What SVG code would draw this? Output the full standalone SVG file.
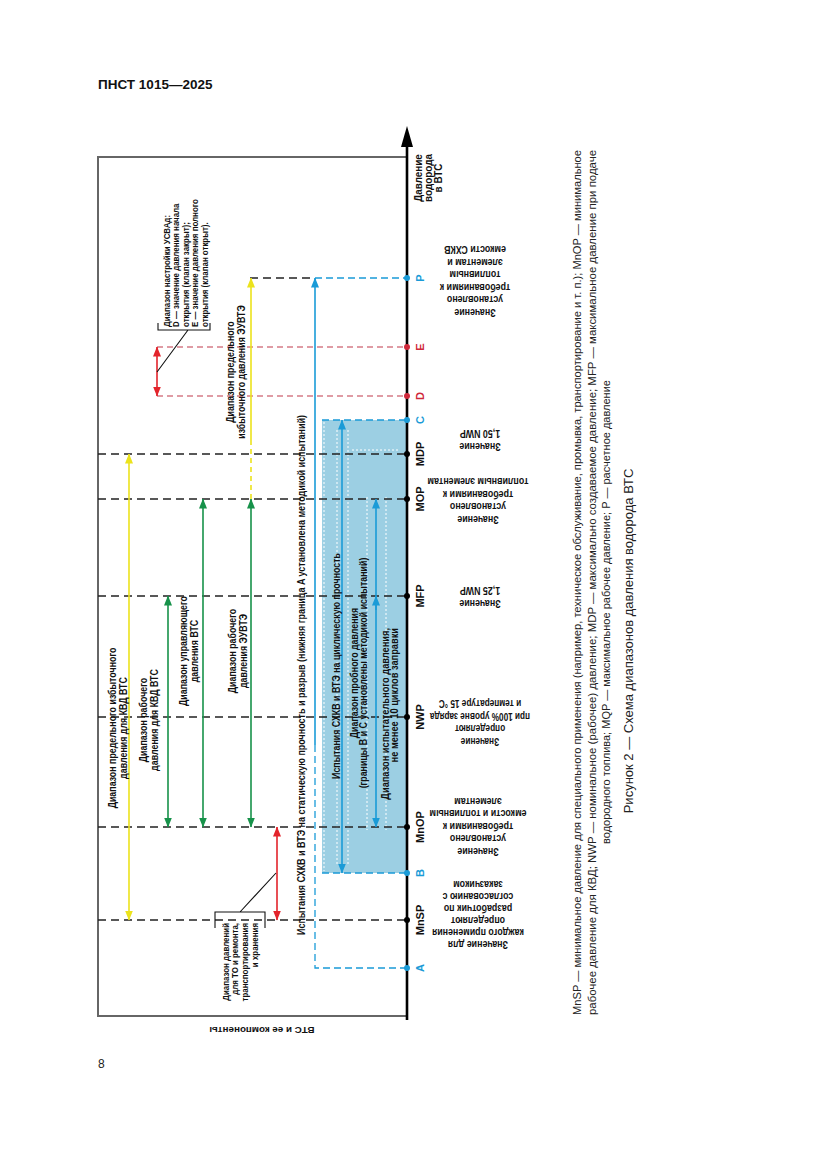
<svg xmlns="http://www.w3.org/2000/svg" width="827" height="1169" viewBox="0 0 827 1169">
<style>
.t{font-family:"Liberation Sans",Arial,sans-serif;font-weight:bold;font-size:10.3px;fill:#111}
.s{font-size:9.2px}
.ax{font-family:"Liberation Sans",Arial,sans-serif;font-weight:bold;font-size:11px}
.cap{font-family:"Liberation Sans",Arial,sans-serif;font-size:11px;fill:#222}
.dk{stroke:#222;stroke-width:1.3;fill:none;stroke-dasharray:8 5}
.dr{stroke:#c0394a;stroke-width:1.2;fill:none;stroke-dasharray:6 4}
.db{stroke:#1a9bd7;stroke-width:1.3;fill:none;stroke-dasharray:7 4}
.dw{stroke:#fff;stroke-width:1;fill:none;stroke-dasharray:2 2}
.ay{stroke:#ece31c;stroke-width:1.6;fill:none}
.ag{stroke:#17924a;stroke-width:1.6;fill:none}
.ar{stroke:#e3242b;stroke-width:1.6;fill:none}
.ab{stroke:#1a9bd7;stroke-width:1.6;fill:none}
.ld{stroke:#111;stroke-width:1.1;fill:none}
</style>
<defs>
<marker id="my" viewBox="0 0 10 8" refX="9.5" refY="4" markerWidth="10" markerHeight="8" markerUnits="userSpaceOnUse" orient="auto-start-reverse"><path d="M0,0 L10,4 L0,8 z" fill="#ece31c"/></marker>
<marker id="mg" viewBox="0 0 10 8" refX="9.5" refY="4" markerWidth="10" markerHeight="8" markerUnits="userSpaceOnUse" orient="auto-start-reverse"><path d="M0,0 L10,4 L0,8 z" fill="#17924a"/></marker>
<marker id="mr" viewBox="0 0 10 8" refX="9.5" refY="4" markerWidth="10" markerHeight="8" markerUnits="userSpaceOnUse" orient="auto-start-reverse"><path d="M0,0 L10,4 L0,8 z" fill="#e3242b"/></marker>
<marker id="mb" viewBox="0 0 10 8" refX="9.5" refY="4" markerWidth="10" markerHeight="8" markerUnits="userSpaceOnUse" orient="auto-start-reverse"><path d="M0,0 L10,4 L0,8 z" fill="#1a9bd7"/></marker>
</defs>
<rect width="827" height="1169" fill="#fff"/>

<text x="98" y="89" style="font-family:'Liberation Sans',Arial,sans-serif;font-weight:bold;font-size:13.5px;fill:#111">ПНСТ 1015—2025</text>
<text x="98" y="1068" style="font-family:'Liberation Sans',Arial,sans-serif;font-size:12px;fill:#222">8</text>

<g id="frame">
<path d="M407,157 H98 V1016 H407" stroke="#666" stroke-width="2" fill="none"/>
<rect x="322" y="420" width="85" height="453" fill="#9ccfe3"/>
<path class="dw" d="M324,422 V871 M337,430 V866 M348,430 V866 M367,497 V830 M386,497 V830 M352,450 H400"/>
</g>

<g id="connectors">
<path class="dk" d="M98,454 H407 M98,499 H407 M98,596 H407 M98,717 H407 M98,827 H407 M98,920 H407 M250,278 H315"/>
<path class="dr" d="M157,347 H407 M157,396 H407"/>
<path class="db" d="M315,278 H407 M322,420 H407 M322,873 H407 M315,745 V968 H407"/>
<line class="ay" x1="129" y1="454" x2="129" y2="920" marker-start="url(#my)" marker-end="url(#my)"/>
<line class="ag" x1="168" y1="596" x2="168" y2="827" marker-start="url(#mg)" marker-end="url(#mg)"/>
<line class="ag" x1="203" y1="499" x2="203" y2="827" marker-start="url(#mg)" marker-end="url(#mg)"/>
<line class="ay" x1="251" y1="278" x2="251" y2="440" marker-start="url(#my)"/>
<line class="ay" x1="251" y1="440" x2="251" y2="499" stroke-dasharray="5 4"/>
<line class="ag" x1="251" y1="499" x2="251" y2="827" marker-start="url(#mg)" marker-end="url(#mg)"/>
<line class="ar" x1="157" y1="347" x2="157" y2="396" marker-start="url(#mr)" marker-end="url(#mr)"/>
<line class="ar" x1="277" y1="827" x2="277" y2="920" marker-start="url(#mr)" marker-end="url(#mr)"/>
<line class="ab" x1="315" y1="278" x2="315" y2="745" marker-start="url(#mb)"/>
<line class="ab" x1="342" y1="420" x2="342" y2="873" marker-start="url(#mb)" marker-end="url(#mb)"/>
<line class="ab" x1="376" y1="499" x2="376" y2="827" marker-start="url(#mb)" marker-end="url(#mb)"/>
<line class="ab" x1="376" y1="610" x2="376" y2="596" marker-end="url(#mb)"/>
<path class="ld" d="M157,372 L188,330 M158,323 V330 H210 V323"/>
<path class="ld" d="M240,912 L276,873 M215,928 V912 H265 V928"/>
</g>

<g id="axis">
<line x1="407" y1="1020" x2="407" y2="142" stroke="#000" stroke-width="2.6"/>
<polygon points="407,126 401,147 413,147" fill="#000"/>
<g fill="#000">
<circle cx="407" cy="920" r="3"/><circle cx="407" cy="827" r="3"/><circle cx="407" cy="717" r="3"/>
<circle cx="407" cy="596" r="3"/><circle cx="407" cy="499" r="3"/><circle cx="407" cy="454" r="3"/>
</g>
<g fill="#1a9bd7"><circle cx="407" cy="968" r="3"/><circle cx="407" cy="873" r="3"/><circle cx="407" cy="420" r="3"/><circle cx="407" cy="278" r="3"/></g>
<g fill="#d0283a"><circle cx="407" cy="396" r="3"/><circle cx="407" cy="347" r="3"/></g>
<text class="t" transform="translate(422,178) rotate(-90) scale(0.86,1)" text-anchor="middle" style="font-size:11.5px"><tspan x="0">Давление</tspan><tspan x="0" dy="10">водорода</tspan><tspan x="0" dy="10">в ВТС</tspan></text>
</g>

<g id="axis-labels" class="ax" text-anchor="middle">
<text transform="translate(424,968) rotate(-90)" fill="#1a9bd7">A</text>
<text transform="translate(424,920) rotate(-90)" fill="#111">MnSP</text>
<text transform="translate(424,873) rotate(-90)" fill="#1a9bd7">B</text>
<text transform="translate(424,827) rotate(-90)" fill="#111">MnOP</text>
<text transform="translate(424,717) rotate(-90)" fill="#111">NWP</text>
<text transform="translate(424,596) rotate(-90)" fill="#111">MFP</text>
<text transform="translate(424,499) rotate(-90)" fill="#111">MOP</text>
<text transform="translate(424,454) rotate(-90)" fill="#111">MDP</text>
<text transform="translate(424,420) rotate(-90)" fill="#1a9bd7">C</text>
<text transform="translate(424,396) rotate(-90)" fill="#d0283a">D</text>
<text transform="translate(424,347) rotate(-90)" fill="#d0283a">E</text>
<text transform="translate(424,278) rotate(-90)" fill="#1a9bd7">P</text>
</g>

<g id="value-P"><text class="t" transform="translate(475,308.5) rotate(180) scale(0.86,1)" text-anchor="middle"><tspan x="0">Значение</tspan><tspan x="0" dy="12.5">установлено</tspan><tspan x="0" dy="12.5">требованиями к</tspan><tspan x="0" dy="12.5">топливным</tspan><tspan x="0" dy="12.5">элементам  и</tspan><tspan x="0" dy="12.5">емкости СХКВ</tspan></text></g>
<g id="value-MDP"><text class="t" transform="translate(480,442.5) rotate(180) scale(0.86,1)" text-anchor="middle"><tspan x="0">Значение</tspan><tspan x="0" dy="12.5">1,50 NWP</tspan></text></g>
<g id="value-MOP"><text class="t" transform="translate(478,515.5) rotate(180) scale(0.86,1)" text-anchor="middle"><tspan x="0">Значение</tspan><tspan x="0" dy="12.5">установлено</tspan><tspan x="0" dy="12.5">требованиями к</tspan><tspan x="0" dy="12.5">топливным элементам</tspan></text></g>
<g id="value-MFP"><text class="t" transform="translate(480,599.5) rotate(180) scale(0.86,1)" text-anchor="middle"><tspan x="0">Значение</tspan><tspan x="0" dy="12.5">1,25 NWP</tspan></text></g>
<g id="value-NWP"><text class="t" transform="translate(480,737.5) rotate(180) scale(0.8,1)" text-anchor="middle"><tspan x="0">Значение</tspan><tspan x="0" dy="12.5">определяют</tspan><tspan x="0" dy="12.5">при 100% уровне заряда</tspan><tspan x="0" dy="12.5">и температуре 15 °С</tspan></text></g>
<g id="value-MnOP"><text class="t" transform="translate(478,847.5) rotate(180) scale(0.86,1)" text-anchor="middle"><tspan x="0">Значение</tspan><tspan x="0" dy="12.5">установлено</tspan><tspan x="0" dy="12.5">требованиями к</tspan><tspan x="0" dy="12.5">емкости и топливным</tspan><tspan x="0" dy="12.5">элементам</tspan></text></g>
<g id="value-MnSP"><text class="t" transform="translate(478,940.5) rotate(180) scale(0.86,1)" text-anchor="middle"><tspan x="0">Значение для</tspan><tspan x="0" dy="12">каждого применения</tspan><tspan x="0" dy="12">определяют</tspan><tspan x="0" dy="12">разработчик по</tspan><tspan x="0" dy="12">согласованию с</tspan><tspan x="0" dy="12">заказчиком</tspan></text></g>

<g id="range-kvd-limit"><text class="t" transform="translate(115.5,728) rotate(-90) scale(0.86,1)" text-anchor="middle"><tspan x="0">Диапазон предельного избыточного</tspan><tspan x="0" dy="12">давления для КВД ВТС</tspan></text></g>
<g id="range-kvd-work"><text class="t" transform="translate(146.5,720) rotate(-90) scale(0.86,1)" text-anchor="middle"><tspan x="0">Диапазон рабочего</tspan><tspan x="0" dy="12">давления для КВД ВТС</tspan></text></g>
<g id="range-control"><text class="t" transform="translate(186.5,651) rotate(-90) scale(0.86,1)" text-anchor="middle"><tspan x="0">Диапазон управляющего</tspan><tspan x="0" dy="12">давления ВТС</tspan></text></g>
<g id="range-euvte-work"><text class="t" transform="translate(235.5,651) rotate(-90) scale(0.86,1)" text-anchor="middle"><tspan x="0">Диапазон рабочего</tspan><tspan x="0" dy="11.5">давления ЭУВТЭ</tspan></text></g>
<g id="range-euvte-limit"><text class="t" transform="translate(233.5,372) rotate(-90) scale(0.86,1)" text-anchor="middle"><tspan x="0">Диапазон предельного</tspan><tspan x="0" dy="12">избыточного давления ЭУВТЭ</tspan></text></g>
<g id="range-usvad"><text class="t s" transform="translate(170,327) rotate(-90) scale(0.86,1)"><tspan x="0">Диапазон настройки УСВАд:</tspan><tspan x="0" dy="9.5">D — значение давления начала</tspan><tspan x="0" dy="9.5">открытия (клапан закрыт);</tspan><tspan x="0" dy="9.5">E — значение давления полного</tspan><tspan x="0" dy="9.5">открытия (клапан открыт).</tspan></text></g>
<g id="range-service"><text class="t s" transform="translate(228.5,923) rotate(-90) scale(0.86,1)" text-anchor="end"><tspan x="0">Диапазон давлений</tspan><tspan x="0" dy="10">для ТО и ремонта,</tspan><tspan x="0" dy="10">транспортирования</tspan><tspan x="0" dy="10">и хранения</tspan></text></g>
<g id="test-static"><text class="t" transform="translate(304.5,675) rotate(-90)" text-anchor="middle" textLength="520" lengthAdjust="spacingAndGlyphs">Испытания СХКВ и ВТЭ на статическую прочность и разрыв (нижняя граница A установлена методикой испытаний)</text></g>
<g id="test-cyclic"><text class="t" transform="translate(339.5,666) rotate(-90) scale(0.86,1)" text-anchor="middle">Испытания СХКВ и ВТЭ на циклическую прочность</text></g>
<g id="range-proof"><text class="t" transform="translate(357.5,673) rotate(-90) scale(0.86,1)" text-anchor="middle"><tspan x="0">Диапазон пробного давления</tspan><tspan x="0" dy="10">(границы B и C установлены методикой испытаний)</tspan></text></g>
<g id="range-test"><text class="t" transform="translate(388.5,628) rotate(-90) scale(0.9,1)" text-anchor="end"><tspan x="0">Диапазон испытательного давления,</tspan><tspan x="0" dy="10">не менее 10 циклов заправки</tspan></text></g>
<g id="vts-label"><text class="t s" transform="translate(262,1027) rotate(180)" text-anchor="middle" style="font-size:9.8px">ВТС и ее компоненты</text></g>

<g id="caption">
<text class="cap" transform="translate(581,1015) rotate(-90)" textLength="865" lengthAdjust="spacingAndGlyphs">MnSP — минимальное давление для специального применения (например, техническое обслуживание, промывка, транспортирование и т. п.); MnOP — минимальное</text>
<text class="cap" transform="translate(595.5,1015) rotate(-90)" textLength="865" lengthAdjust="spacingAndGlyphs">рабочее давление для КВД; NWP — номинальное (рабочее) давление; MDP — максимально создаваемое давление; MFP — максимальное давление при подаче</text>
<text class="cap" transform="translate(610,612) rotate(-90)" text-anchor="middle">водородного топлива; MQP — максимальное рабочее давление; P — расчетное давление</text>
<text class="cap" transform="translate(633,641) rotate(-90)" text-anchor="middle" style="font-size:13px">Рисунок 2 — Схема диапазонов давления водорода ВТС</text>
</g>
</svg>
